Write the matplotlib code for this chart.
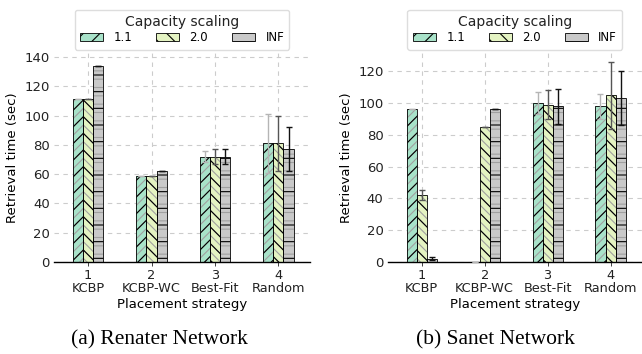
import matplotlib
matplotlib.use('Agg')
import matplotlib.pyplot as plt
import numpy as np

# Datos
estrategias = ['1\nKCBP', '2\nKCBP-WC', '3\nBest-Fit', '4\nRandom']
escalas = ['1.1', '2.0', 'INF']

renater_medias = {
    '1.1': [111, 59, 72, 81],
    '2.0': [111, 59, 72, 81],
    'INF': [134, 62, 72, 77],
}
renater_err = {
    '1.1': [0, 0, 4, 20],
    '2.0': [0, 0, 5, 19],
    'INF': [0, 0, 5, 15],
}

sanet_medias = {
    '1.1': [96, 0, 100, 98],
    '2.0': [42, 85, 99, 105],
    'INF': [2, 96, 98, 103],
}
sanet_err = {
    '1.1': [0, 0, 7, 8],
    '2.0': [3, 0, 9, 21],
    'INF': [1, 0, 11, 17],
}

colores = {'1.1': '#a8e2c9', '2.0': '#e4f3c2', 'INF': '#c9c9c9'}
tramas = {'1.1': '//', '2.0': '\\\\', 'INF': '-'}
tramas_finas = {'1.1': '////', '2.0': '\\\\\\\\', 'INF': '--'}
color_err = {'1.1': '#b5b5b5', '2.0': '#555555', 'INF': '#111111'}

plt.rcParams['hatch.linewidth'] = 0.8
plt.rcParams['font.family'] = 'DejaVu Sans'


def graficar_panel(ax, medias, errores, ymax, yticks):
    x = np.arange(1, len(estrategias) + 1)
    ancho = 0.16
    for i, esc in enumerate(escalas):
        pos = x + (i - 1) * ancho
        alturas = np.array(medias[esc], dtype=float)
        # capa de fondo con trama gris fina
        ax.bar(pos, alturas, ancho, color=colores[esc], edgecolor='#a0a0a0',
               linewidth=0, hatch=tramas_finas[esc], zorder=2)
        # capa superior con trama negra y barras de error
        ax.bar(pos, alturas, ancho, yerr=errores[esc], color='none',
               edgecolor=['black' if h > 0 else 'none' for h in alturas],
               linewidth=0.6, hatch=tramas[esc], zorder=3,
               error_kw=dict(ecolor=color_err[esc], elinewidth=1.0,
                             capsize=2.5, capthick=1.0, zorder=4))
        # entrada de la leyenda
        ax.bar([0], [0], 0, color=colores[esc], edgecolor='black',
               linewidth=0.6, hatch=tramas[esc], label=esc)
    ax.set_xlim(0.46, 4.5)
    ax.set_ylim(0, ymax)
    ax.set_xticks(x)
    ax.set_xticklabels(estrategias, fontsize=9.3, linespacing=1.0)
    ax.set_yticks(yticks)
    ax.tick_params(axis='y', labelsize=9.5, length=0, pad=3, colors='#222222')
    ax.tick_params(axis='x', length=3, width=0.6, pad=2, colors='#222222')
    ax.grid(True, linestyle=(0, (4, 4)), color='#cccccc', linewidth=0.8, zorder=0)
    for lado in ['top', 'right', 'left']:
        ax.spines[lado].set_visible(False)
    ax.spines['bottom'].set_linewidth(1.0)
    ax.set_xlabel('Placement strategy', fontsize=9.5, labelpad=2)
    ax.set_ylabel('Retrieval time (sec)', fontsize=9.5, labelpad=4)
    leg = ax.legend(title='Capacity scaling', ncol=3, loc='lower center',
                    bbox_to_anchor=(0.5, 1.0), borderaxespad=0.3,
                    fontsize=8.5, title_fontsize=10,
                    handlelength=2.0, handleheight=0.6, columnspacing=2.0,
                    borderpad=0.45, labelspacing=0.2, handletextpad=0.85,
                    fancybox=True, framealpha=1, edgecolor='#dddddd')
    leg.get_title().set_color('#222222')


fig = plt.figure(figsize=(6.42, 3.54), dpi=100)
ax1 = fig.add_axes([0.084, 0.26, 0.399, 0.59])
ax2 = fig.add_axes([0.604, 0.26, 0.396, 0.59])

graficar_panel(ax1, renater_medias, renater_err, 142.7, range(0, 141, 20))
graficar_panel(ax2, sanet_medias, sanet_err, 131.5, range(0, 121, 20))

fig.text(0.249, 0.04, '(a) Renater Network', ha='center', va='center',
         fontsize=15.5, family='Liberation Serif')
fig.text(0.771, 0.04, '(b) Sanet Network', ha='center', va='center',
         fontsize=15.5, family='Liberation Serif')

fig.savefig('out.png', dpi=100)
